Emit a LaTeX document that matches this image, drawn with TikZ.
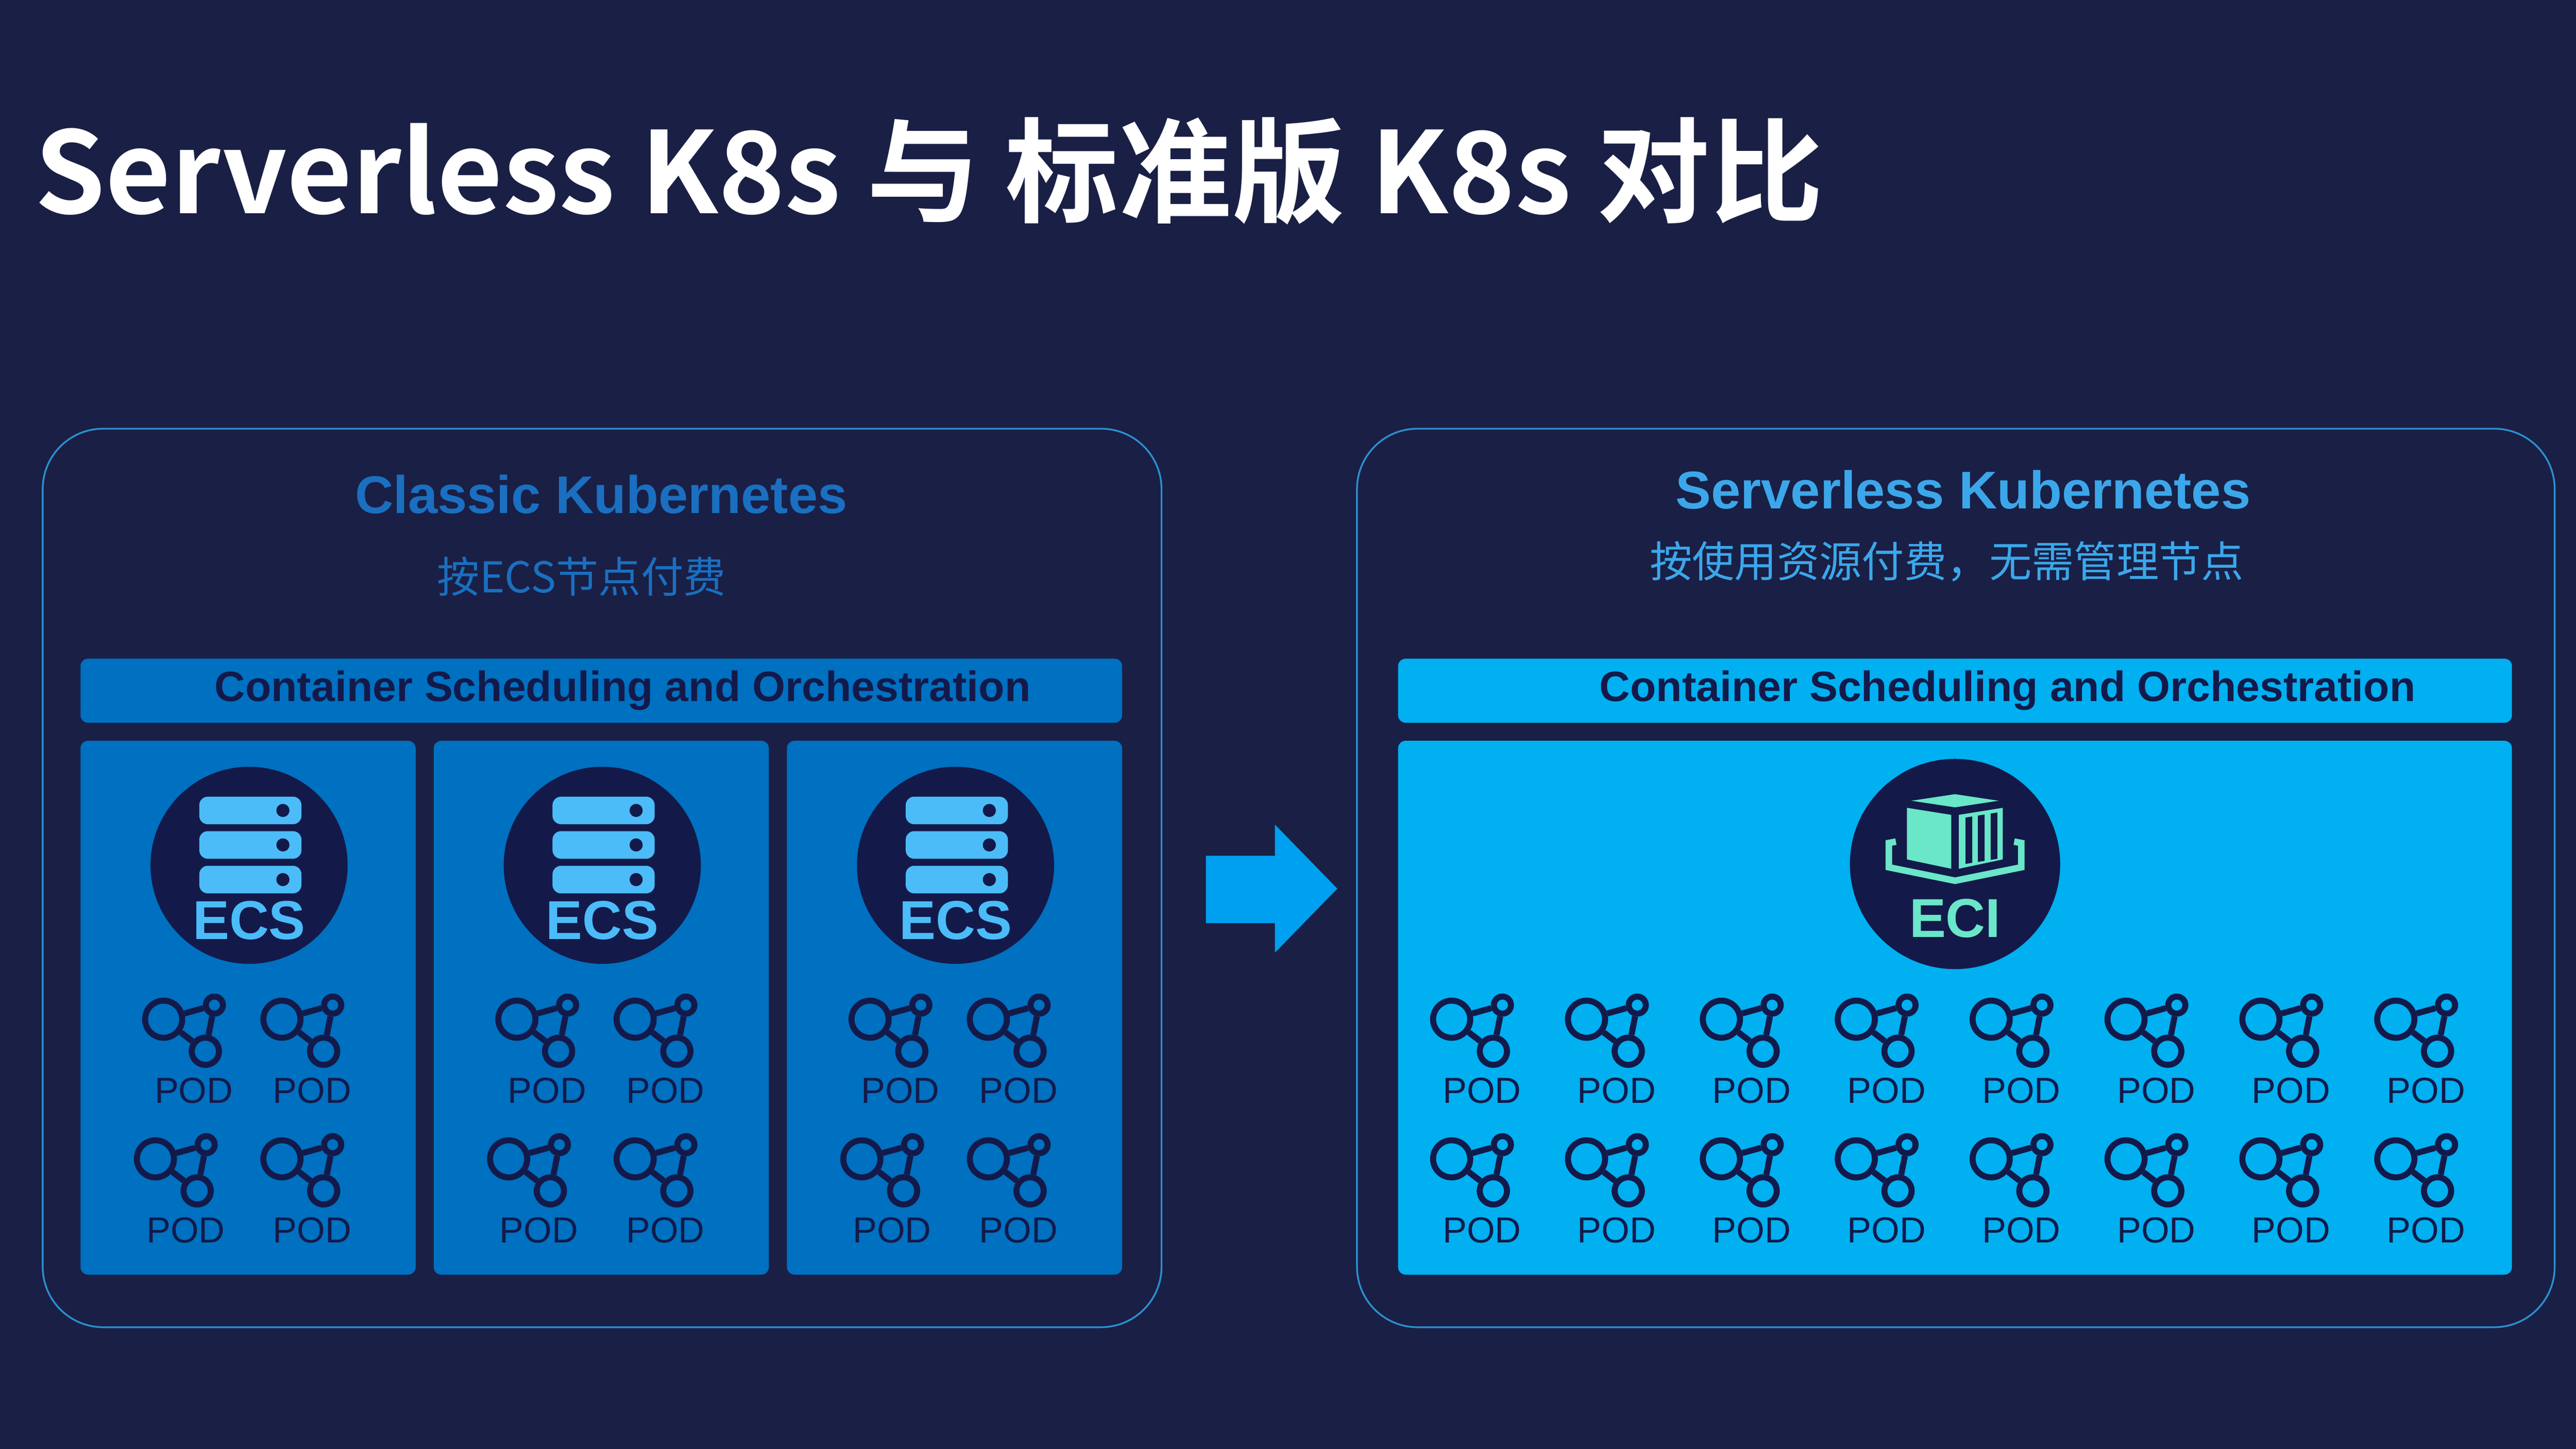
\documentclass[tikz,border=0pt]{standalone}
\usepackage{fontspec}
\setmainfont{Liberation Sans}
\newfontfamily\cjk{Noto Sans CJK SC}[BoldFont={Noto Sans CJK SC Bold}]
\definecolor{bg}{HTML}{1A1F45}
\definecolor{navy}{HTML}{131A4A}
\definecolor{midblue}{HTML}{0070C0}
\definecolor{cyanb}{HTML}{00B0F0}
\definecolor{srv}{HTML}{4BBCF8}
\definecolor{mint}{HTML}{6AE6C8}
\definecolor{outl}{HTML}{2A8FD0}
\definecolor{arr}{HTML}{00A0F0}
\definecolor{ctitle}{HTML}{1A6FC0}
\definecolor{stitle}{HTML}{3BA7EA}
\begin{document}
\begin{tikzpicture}[x=0.03265cm,y=-0.03265cm,
  panel/.style={draw=outl,line width=1pt,rounded corners=1.2cm},
  bar/.style={rounded corners=0.15cm},
  podc/.style={circle,draw=navy,line width=0.12cm,inner sep=0pt},
  podl/.style={line width=0.12cm,navy},
  podtxt/.style={font=\fontsize{20.5}{22}\selectfont,text=navy,inner sep=0pt},
  pod/.pic={
    \node[podc,minimum size=22.6*0.03265cm] (-big) at (-18.4,-43.5) {};
    \node[podc,minimum size=10.4*0.03265cm] (-sm) at (12.5,-52.1) {};
    \node[podc,minimum size=16.6*0.03265cm] (-bot) at (7,-24) {};
    \draw[podl] (-big) -- (-sm);
    \draw[podl] (-big) -- (-bot);
    \draw[podl] (-sm) -- (-bot);
    \node[podtxt] (-lbl) at (0,0) {POD};
  }]
\fill[bg] (0,0) rectangle (1568,882);
\useasboundingbox (0,0) rectangle (1568,882);
% title
\node[anchor=base west,inner sep=0pt,text=white,font=\cjk\bfseries\fontsize{64}{68}\selectfont] (title) at (21,130) {Serverless K8s 与 标准版 K8s 对比};
% panels
\draw[panel,fill=bg] (26,261) rectangle (707,808);
\draw[panel,fill=bg] (826,261) rectangle (1555,808);
\node[text=ctitle,font=\bfseries\fontsize{30}{32}\selectfont] (ct) at (366,301) {Classic Kubernetes};
\node[text=ctitle,font=\cjk\fontsize{24}{26}\selectfont] (cs) at (354,351) {按ECS节点付费};
\node[text=stitle,font=\bfseries\fontsize{30}{32}\selectfont] (st) at (1195,298) {Serverless Kubernetes};
\node[text=stitle,font=\cjk\fontsize{24}{26}\selectfont] (ss) at (1185,342) {按使用资源付费，无需管理节点};
% bars
\fill[bar,midblue] (49,401) rectangle (683,440);
\node[text=navy,font=\bfseries\fontsize{24}{26}\selectfont] (cb) at (379,420.5) {Container Scheduling and Orchestration};
\fill[bar,cyanb] (851,401) rectangle (1529,440);
\node[text=navy,font=\bfseries\fontsize{24}{26}\selectfont] (sb) at (1222,420.5) {Container Scheduling and Orchestration};
% left columns
\foreach \i in {0,1,2}{
  \fill[bar,midblue] (49+215*\i,451) rectangle (253+215*\i,776);
  \begin{scope}[shift={(151.6+215*\i,526.8)}]
    \fill[navy] (0,0) circle (60);
    \foreach \yy in {-41.8,-20.8,0.3}{
      \fill[srv,rounded corners=0.17cm] (-30.3,\yy) rectangle (31.9,\yy+16.8);
      \fill[navy] (20.6,\yy+8.4) circle (4);
    }
    \node[text=srv,font=\bfseries\fontsize{31}{33}\selectfont] (ecs\i) at (0,33.6) {ECS};
  \end{scope}
  \pic (a\i) at (118+215*\i,664) {pod};
  \pic (b\i) at (190+215*\i,664) {pod};
  \pic (c\i) at (113+215*\i,749) {pod};
  \pic (d\i) at (190+215*\i,749) {pod};
}
% arrow
\fill[arr] (734,521) -- (776,521) -- (776,502) -- (814,541) -- (776,580) -- (776,562) -- (734,562) -- cycle;
% right box
\fill[bar,cyanb] (851,451) rectangle (1529,776);
\begin{scope}[shift={(1190,526)}]
  \fill[navy] (0,0) circle (64);
  \fill[mint] (-26.5,-38.5) -- (0,-42.5) -- (26.5,-38.5) -- (0,-34.5) -- cycle;
  \fill[mint] (-29.3,-34.2) -- (-2.3,-29.9) -- (-2.3,2.9) -- (-29.3,-2.8) -- cycle;
  \fill[mint] (2.3,-29.9) -- (29.1,-34.2) -- (29.1,-2.8) -- (2.3,2.9) -- cycle;
  \foreach \a/\b in {6.4/10.5,13.9/18.0,21.7/25.8}{
    \fill[navy] (\a,{-27.6-0.16*(\a-2.3)}) -- (\b,{-27.6-0.16*(\b-2.3)}) -- (\b,{0.6-0.16*(\b-2.3)}) -- (\a,{0.6-0.16*(\a-2.3)}) -- cycle;
  }
  \draw[mint,line width=0.13cm] (-36,-13.6) -- (-40.3,-12.8) -- (-40.3,2.0) -- (0,10.2) -- (40.3,2.0) -- (40.3,-12.8) -- (36,-13.6);
  \node[text=mint,font=\bfseries\fontsize{31}{33}\selectfont] (eci) at (0,33) {ECI};
\end{scope}
\foreach \j in {0,...,7}{
  \pic (e\j) at (902+82.1*\j,664) {pod};
  \pic (f\j) at (902+82.1*\j,749) {pod};
}
\end{tikzpicture}
\end{document}
